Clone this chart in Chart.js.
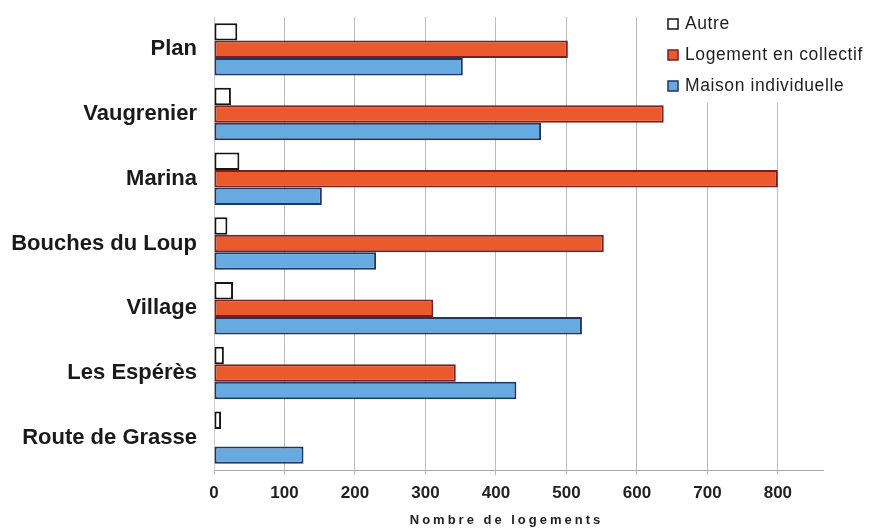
<!DOCTYPE html>
<html>
<head>
<meta charset="utf-8">
<script src="https://cdn.jsdelivr.net/npm/chart.js@4/dist/chart.umd.min.js"></script>
<style>
  html, body { margin: 0; padding: 0; background: #fff; }
  #wrap { width: 872px; height: 530px; }
</style>
</head>
<body>
<div id="wrap"><canvas id="c" width="872" height="530"></canvas></div>
<script>
// Logements par quartier
const quartiers = ['Plan', 'Vaugrenier', 'Marina', 'Bouches du Loup', 'Village', 'Les Espérès', 'Route de Grasse'];
const autre = [33, 24, 36, 19, 27, 14, 10];
const collectif = [502, 638, 800, 553, 311, 343, 0];
const maison = [353, 464, 153, 230, 522, 429, 127];
const seriesNames = ['Autre', 'Logement en collectif', 'Maison individuelle'];
const xTicks = [0, 100, 200, 300, 400, 500, 600, 700, 800];
const axisTitle = 'Nombre de logements';

const LEFT = 214, TOP = 17, BOTTOM = 470, RIGHT = 823;

// zero-length bars get no outline
const edge = w => ctx => (ctx.raw ? w : 0);

// legend in a white box over the top-right of the plot
const sideLegend = {
  id: 'sideLegend',
  afterDraw(chart) {
    const ctx = chart.ctx;
    ctx.save();
    ctx.fillStyle = '#ffffff';
    ctx.fillRect(656, 0, 216, 103);
    const rows = [24, 55, 86];
    chart.data.datasets.forEach((ds, i) => {
      const y = rows[i];
      ctx.fillStyle = ds.backgroundColor;
      ctx.fillRect(668, y - 5, 10, 10);
      ctx.strokeStyle = ds.borderColor;
      ctx.lineWidth = 1.5;
      ctx.strokeRect(668, y - 5, 10, 10);
      ctx.fillStyle = '#1e1e1e';
      ctx.font = '17.5px "Liberation Sans", Arial, sans-serif';
      ctx.letterSpacing = '0.6px';
      ctx.textBaseline = 'middle';
      ctx.textAlign = 'left';
      ctx.fillText(ds.label, 685, y);
    });
    ctx.restore();
  }
};

// spaced-out title under the value axis
const xTitle = {
  id: 'xTitle',
  afterDraw(chart) {
    const ctx = chart.ctx;
    const a = chart.chartArea;
    ctx.save();
    ctx.fillStyle = '#222';
    ctx.font = 'bold 13px "Liberation Sans", Arial, sans-serif';
    ctx.letterSpacing = '3px';
    ctx.textAlign = 'center';
    ctx.textBaseline = 'middle';
    ctx.fillText(axisTitle, (a.left + a.right) / 2 - 12, 520);
    ctx.restore();
  }
};

new Chart(document.getElementById('c'), {
  type: 'bar',
  data: {
    labels: quartiers,
    datasets: [
      { label: seriesNames[0], data: autre, backgroundColor: '#ffffff', borderColor: '#151515', borderWidth: edge(2) },
      { label: seriesNames[1], data: collectif, backgroundColor: '#ea5a2c', borderColor: '#7a1e1e', borderWidth: edge(2) },
      { label: seriesNames[2], data: maison, backgroundColor: '#66aadf', borderColor: '#1f3563', borderWidth: edge(2) }
    ]
  },
  options: {
    indexAxis: 'y',
    responsive: false,
    animation: false,
    datasets: { bar: { categoryPercentage: 0.81, barPercentage: 1.0, borderSkipped: false } },
    layout: { padding: { top: TOP, right: 872 - RIGHT, left: 0, bottom: 0 } },
    plugins: { legend: { display: false }, tooltip: { enabled: false } },
    scales: {
      x: {
        type: 'linear',
        min: 0,
        max: 864,
        afterBuildTicks: s => { s.ticks = xTicks.map(v => ({ value: v })); },
        afterFit: s => { s.height = 530 - BOTTOM; s.paddingLeft = 0; s.paddingRight = 0; },
        grid: { color: '#bdbdbd', lineWidth: 1, tickLength: 5 },
        border: { color: '#a8a8a8', width: 1 },
        ticks: {
          color: '#222',
          padding: 8,
          font: { family: '"Liberation Sans", Arial, sans-serif', size: 17, weight: 'bold' }
        }
      },
      y: {
        afterFit: s => { s.width = LEFT; s.paddingTop = 0; s.paddingBottom = 0; },
        grid: { display: false },
        border: { color: '#cfcfcf', width: 1 },
        ticks: {
          color: '#1a1a1a',
          padding: 9,
          font: { family: '"Liberation Sans", Arial, sans-serif', size: 22, weight: 'bold' }
        }
      }
    }
  },
  plugins: [sideLegend, xTitle]
});
</script>
</body>
</html>
